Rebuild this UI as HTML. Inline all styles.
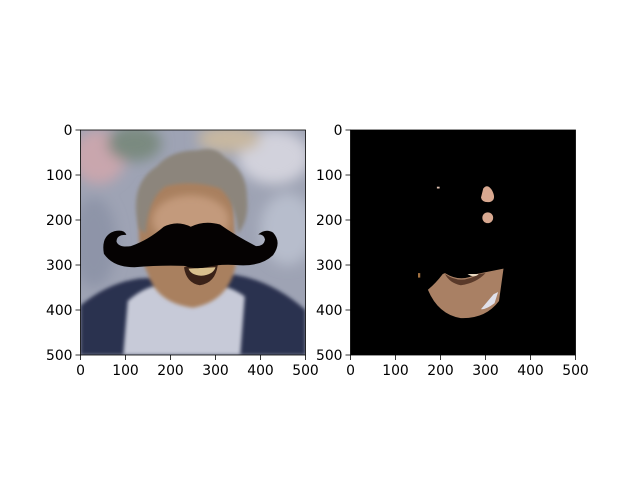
<!DOCTYPE html>
<html><head><meta charset="utf-8"><style>
body{margin:0;background:#fff;width:640px;height:480px;overflow:hidden}
svg{display:block;font-family:"DejaVu Sans","Liberation Sans",sans-serif}
</style></head><body>
<svg width="640" height="480" viewBox="0 0 640 480">
<defs>
<filter id="bl" x="-20%" y="-20%" width="140%" height="140%"><feGaussianBlur stdDeviation="14"/></filter>
<filter id="bl2"><feGaussianBlur stdDeviation="4"/></filter>
<filter id="bl3"><feGaussianBlur stdDeviation="8"/></filter>
<clipPath id="c1"><rect x="0" y="0" width="500" height="500"/></clipPath>
</defs>

<!-- left image -->
<g transform="translate(80.5,130) scale(0.45)" clip-path="url(#c1)">
<rect width="500" height="500" fill="#9ea3b4"/>
<g filter="url(#bl)">
<ellipse cx="40" cy="60" rx="60" ry="60" fill="#c9a6ad"/>
<ellipse cx="120" cy="30" rx="60" ry="40" fill="#7a8a80"/>
<ellipse cx="430" cy="60" rx="80" ry="60" fill="#d2d2dc"/>
<ellipse cx="460" cy="220" rx="60" ry="80" fill="#b7bdcc"/>
<ellipse cx="30" cy="250" rx="50" ry="100" fill="#8e94a8"/>
<ellipse cx="330" cy="20" rx="70" ry="30" fill="#c8b8a0"/>
</g>
<path d="M0,390 Q60,340 130,330 L330,320 Q420,330 500,400 L500,500 L0,500Z" fill="#2c3350" filter="url(#bl2)"/>
<path d="M95,500 L105,380 Q160,330 230,345 Q310,330 365,370 L355,500Z" fill="#c7cad8" filter="url(#bl2)"/>
<path d="M140,150 Q140,90 240,85 Q340,90 340,160 L345,300 Q330,380 250,395 Q170,385 150,320 Q115,250 140,150Z" fill="#a9805f" filter="url(#bl2)"/>
<ellipse cx="245" cy="200" rx="85" ry="55" fill="#c39a7c" filter="url(#bl3)"/>
<path d="M130,220 Q105,120 170,80 Q200,45 260,45 Q300,35 320,60 Q370,90 370,150 Q375,200 350,230 Q345,160 310,130 Q250,110 190,125 Q150,150 145,230Z" fill="#8c857b" filter="url(#bl2)"/>
<path d="M230,305 Q260,300 305,300 Q300,340 265,345 Q235,340 230,305Z" fill="#3a2218"/>
<path d="M240,308 L300,305 Q295,322 268,324 Q245,322 240,308Z" fill="#d8c08e"/>
<path d="M52,275 Q45,235 75,225 Q97,220 102,233 Q80,232 80,248 Q85,262 112,258 Q150,245 185,215 Q215,200 245,215 Q275,200 310,210 Q345,235 390,258 Q408,258 410,243 Q408,232 395,232 Q412,218 428,228 Q448,250 428,278 Q400,305 345,300 Q305,298 280,305 Q255,310 230,302 Q180,300 120,305 Q72,305 52,275Z" fill="#050202"/>
</g>
<rect x="80.5" y="130" width="225" height="225" fill="none" stroke="#000" stroke-width="0.8"/>

<!-- right image -->
<g transform="translate(350.5,130) scale(0.45)" clip-path="url(#c1)">
<rect width="500" height="500" fill="#000"/>
<path d="M295,130 Q305,118 315,135 Q325,155 310,160 Q292,162 290,150Z" fill="#d8a890"/>
<ellipse cx="305" cy="195" rx="12" ry="12" fill="#d8a890"/>
<rect x="192" y="126" width="6" height="4" fill="#e0c0b0"/>
<rect x="150" y="318" width="5" height="10" fill="#a07040"/>
<path d="M210,318 Q245,340 280,320 L340,308 L330,380 Q300,420 245,418 Q195,410 172,355 Q190,340 205,320Z" fill="#a98064"/>
<path d="M210,320 Q245,345 285,320 L300,318 Q280,340 245,345 Q220,340 210,320Z" fill="#5a3a2a"/>
<path d="M260,320 Q275,330 285,320Z" fill="#e8d8c0"/>
<path d="M318,365 L328,360 L320,385 Q300,400 290,398Z" fill="#e0e0ea"/>
</g>
<rect x="350.5" y="130" width="225" height="225" fill="none" stroke="#000" stroke-width="0.8"/>

<g id="ticks" font-size="13.9px" fill="#000"></g>
</svg>
<script>
const tickValues=[0,100,200,300,400,500];
const tickLabels=["0","100","200","300","400","500"];
const axesLeft=[80.5,350.5];
const g=document.getElementById('ticks');
const NS='http://www.w3.org/2000/svg';
const sc=v=>v*0.45;
axesLeft.forEach((x0,ai)=>{
  tickValues.forEach((v,i)=>{
    const xt=document.createElementNS(NS,'line');
    xt.setAttribute('x1',x0+sc(v));xt.setAttribute('x2',x0+sc(v));
    xt.setAttribute('y1',355);xt.setAttribute('y2',360);
    xt.setAttribute('stroke','#000');xt.setAttribute('stroke-width','0.8');
    
    
    g.appendChild(xt);
    const xl=document.createElementNS(NS,'text');
    xl.setAttribute('x',x0+sc(v));xl.setAttribute('y',375);
    xl.setAttribute('text-anchor','middle');xl.textContent=tickLabels[i];
    
    
    g.appendChild(xl);
    const yt=document.createElementNS(NS,'line');
    yt.setAttribute('x1',x0-5);yt.setAttribute('x2',x0);
    yt.setAttribute('y1',130+sc(v));yt.setAttribute('y2',130+sc(v));
    yt.setAttribute('stroke','#000');yt.setAttribute('stroke-width','0.8');
    
    
    g.appendChild(yt);
    const yl=document.createElementNS(NS,'text');
    yl.setAttribute('x',x0-8);yl.setAttribute('y',130+sc(v)+5);
    yl.setAttribute('text-anchor','end');yl.textContent=tickLabels[i];
    
    
    g.appendChild(yl);
  });
});
</script>
</body></html>
